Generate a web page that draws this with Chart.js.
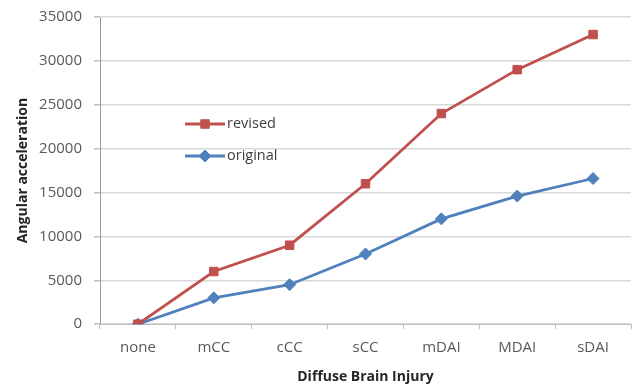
<!DOCTYPE html>
<html>
<head>
<meta charset="utf-8">
<script src="https://cdn.jsdelivr.net/npm/chart.js@4"></script>
<style>
  html, body { margin: 0; padding: 0; background: #fff; }
  #wrap { width: 638px; height: 388px; }
</style>
</head>
<body>
<div id="wrap"><canvas id="chart"></canvas></div>
<script>
const injuries = ['none', 'mCC', 'cCC', 'sCC', 'mDAI', 'MDAI', 'sDAI'];
const revised = [0, 6000, 9000, 16000, 24000, 29000, 33000];
const original = [0, 3000, 4500, 8000, 12000, 14600, 16600];
const yTicks = [0, 5000, 10000, 15000, 20000, 25000, 30000, 35000];

// legend drawn inside the plot, like the original
const innerLegend = {
    id: 'innerLegend',
    afterDatasetsDraw(chart) {
        const ctx = chart.ctx;
        const area = chart.chartArea;
        chart.data.datasets.forEach(function (ds, i) {
            const x = area.left + 85;
            const y = area.top + 107 + i * 32;
            ctx.save();
            ctx.strokeStyle = ds.borderColor;
            ctx.fillStyle = ds.backgroundColor;
            ctx.lineWidth = 2.8;
            ctx.beginPath();
            ctx.moveTo(x, y);
            ctx.lineTo(x + 40, y);
            ctx.stroke();
            ctx.lineWidth = 1;
            Chart.helpers.drawPoint(ctx, {
                pointStyle: ds.pointStyle,
                radius: ds.pointRadius,
                borderWidth: 1
            }, x + 20, y);
            ctx.fillStyle = '#404040';
            ctx.font = '14.5px "Open Sans"';
            ctx.textBaseline = 'middle';
            ctx.fillText(ds.label, x + 42, y);
            ctx.restore();
        });
    }
};

new Chart(document.getElementById('chart'), {
    type: 'line',
    data: {
        labels: injuries,
        datasets: [{
            label: 'revised',
            data: revised,
            borderColor: '#c0504d',
            backgroundColor: '#c0504d',
            borderWidth: 2.8,
            pointStyle: 'rect',
            pointRadius: 6,
            pointBorderWidth: 1,
            tension: 0
        }, {
            label: 'original',
            data: original,
            borderColor: '#4f81bd',
            backgroundColor: '#4f81bd',
            borderWidth: 2.8,
            pointStyle: 'rectRot',
            pointRadius: 6,
            pointBorderWidth: 1,
            tension: 0
        }]
    },
    options: {
        responsive: true,
        maintainAspectRatio: false,
        animation: false,
        layout: {
            padding: { top: 17, right: 6, bottom: 3, left: 0 }
        },
        plugins: {
            legend: { display: false },
            tooltip: { enabled: false }
        },
        scales: {
            x: {
                offset: true,
                grid: {
                    offset: true,
                    drawOnChartArea: false,
                    drawTicks: true,
                    tickLength: 5,
                    color: '#bfbfbf'
                },
                border: { color: '#bfbfbf' },
                ticks: {
                    color: '#595959',
                    font: { family: 'Open Sans', size: 15 },
                    padding: 10
                },
                title: {
                    display: true,
                    text: 'Diffuse Brain Injury',
                    color: '#262626',
                    font: { family: 'Open Sans', size: 14, weight: 'bold' },
                    padding: { top: 1, bottom: 0 }
                }
            },
            y: {
                min: 0,
                max: 35000,
                afterBuildTicks: function (axis) {
                    axis.ticks = yTicks.map(v => ({ value: v }));
                },
                afterFit: function (axis) {
                    axis.width = 100;
                    axis.paddingTop = 0;
                },
                grid: {
                    color: '#d9d9d9',
                    lineWidth: 1.5,
                    tickLength: 6,
                    tickColor: '#bfbfbf'
                },
                border: { color: '#9a9a9a', width: 1 },
                ticks: {
                    color: '#595959',
                    font: { family: 'Open Sans', size: 15, lineHeight: 1 },
                    padding: 12,
                    callback: v => String(v)
                },
                title: {
                    display: true,
                    text: 'Angular acceleration',
                    color: '#262626',
                    font: { family: 'Open Sans', size: 14, weight: 'bold' },
                    padding: { top: 15, bottom: 0 }
                }
            }
        }
    },
    plugins: [innerLegend]
});
</script>
</body>
</html>
